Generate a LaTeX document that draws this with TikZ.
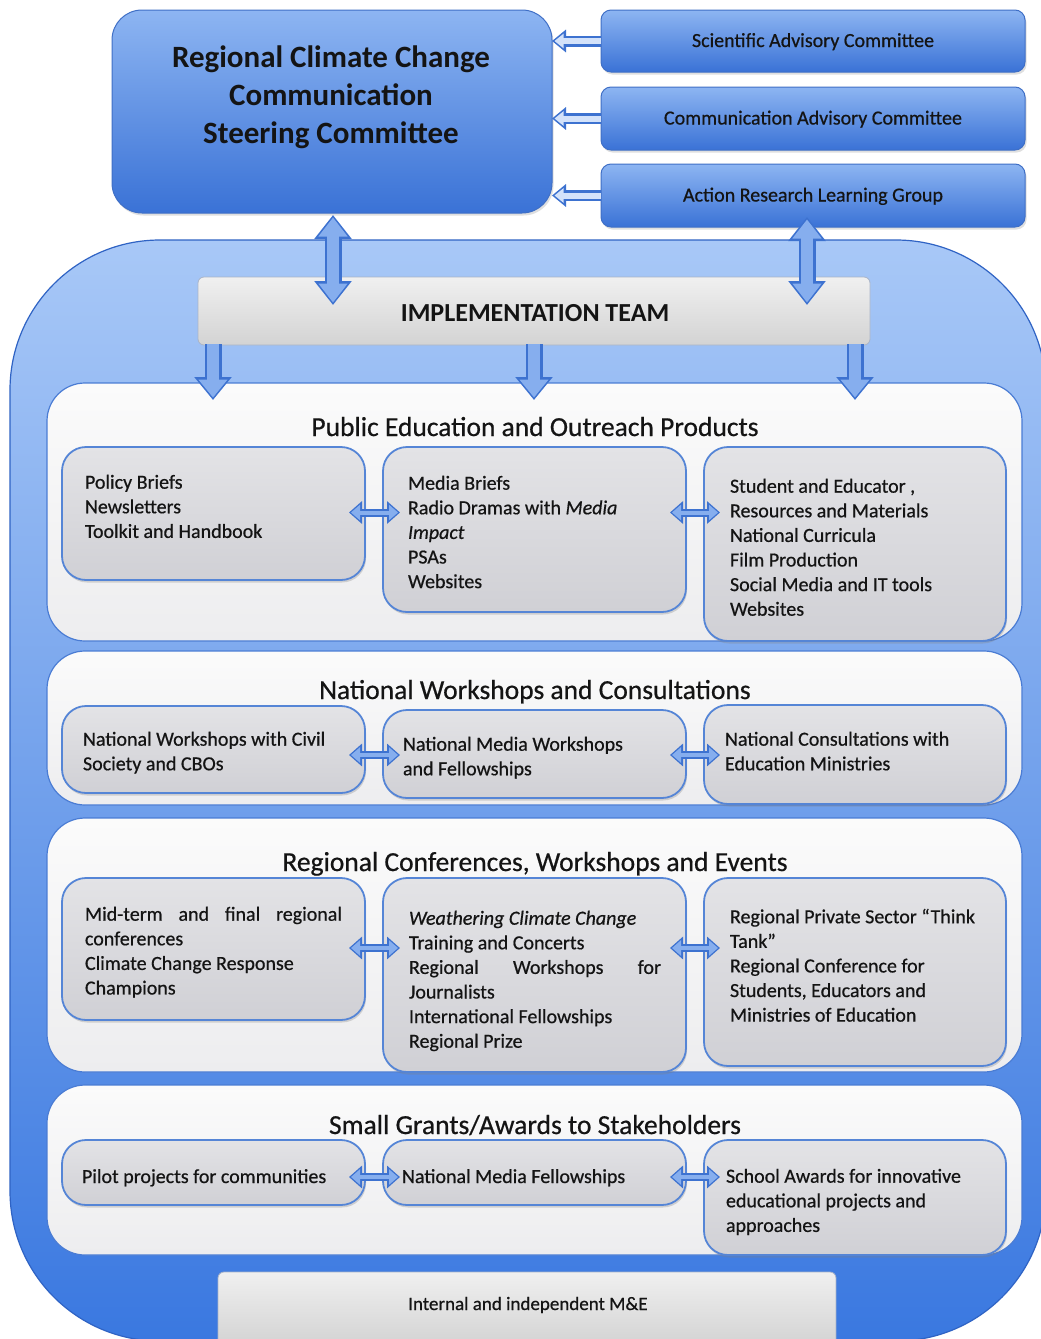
\documentclass[tikz,border=0pt]{standalone}
\usepackage{fontspec}
\setmainfont{Carlito}
\newfontfamily\heavy{Carlito}[FakeBold=0.6]
\usetikzlibrary{arrows.meta,calc,shadows}

\definecolor{txt}{HTML}{141414}
\definecolor{blueTop}{HTML}{8DB5F2}
\definecolor{blueBot}{HTML}{3A72D6}
\definecolor{blueEdge}{HTML}{3F6FC6}
\definecolor{contTop}{HTML}{A8C8F7}
\definecolor{contBot}{HTML}{3A78E0}
\definecolor{contEdge}{HTML}{2F63C4}
\definecolor{panelTop}{HTML}{FBFBFB}
\definecolor{panelBot}{HTML}{EDEDEF}
\definecolor{panelEdge}{HTML}{4A7CD4}
\definecolor{cellTop}{HTML}{E3E3E6}
\definecolor{cellBot}{HTML}{D0D0D5}
\definecolor{cellEdge}{HTML}{5585D6}
\definecolor{barTop}{HTML}{F0F0F0}
\definecolor{barBot}{HTML}{D3D3D3}
\definecolor{barEdge}{HTML}{A9B4C8}
\definecolor{arrOut}{HTML}{3D72D0}
\definecolor{arrIn}{HTML}{86AEEE}
\definecolor{arrLight}{HTML}{D3E2FA}

% a box node given by its corners (x1,y1) and (x2,y2)
\newcommand\boxnode[6]{%
  \node[#1, minimum width={#5-#3}, minimum height={#6-#4}] (#2) at ({(#3+#5)/2},{(#4+#6)/2}) {};}

\tikzset{
  every node/.style={inner sep=0pt, outer sep=0pt},
  bluebox/.style={draw=blueEdge, line width=1pt, top color=blueTop, bottom color=blueBot,
    drop shadow={opacity=0.25, shadow xshift=1.5pt, shadow yshift=-2.5pt}},
  container/.style={draw=contEdge, line width=1.2pt, rounded corners=150pt,
    top color=contTop, bottom color=contBot},
  panel/.style={draw=panelEdge, line width=1.2pt, rounded corners=38pt,
    top color=panelTop, bottom color=panelBot},
  cell/.style={draw=cellEdge, line width=1.8pt, rounded corners=24pt,
    top color=cellTop, bottom color=cellBot,
    drop shadow={opacity=0.3, shadow xshift=1pt, shadow yshift=-2.5pt}},
  bar/.style={draw=barEdge, line width=0.8pt, rounded corners=6pt,
    top color=barTop, bottom color=barBot},
  titletxt/.style={anchor=north, align=center, text=txt,
    font=\fontsize{31}{38}\selectfont\bfseries, execute at begin node=\strut},
  sidetxt/.style={anchor=base, text=txt, font=\heavy\fontsize{20}{24}\selectfont},
  headtxt/.style={anchor=base, text=txt, font=\heavy\fontsize{27.5}{32}\selectfont},
  itemtxt/.style={anchor=north west, align=left, text=txt,
    font=\heavy\fontsize{20}{24.6}\selectfont, execute at begin node=\strut},
  vdarrow/.style={draw=arrOut, line width=17pt,
    {Triangle[width=36pt,length=24pt]}-{Triangle[width=36pt,length=24pt]},
    postaction={draw=arrIn, line width=12pt,
      {Triangle[width=28pt,length=19pt]}-{Triangle[width=28pt,length=19pt]},
      shorten <=2.5pt, shorten >=2.5pt}},
  downarrow/.style={draw=arrOut, line width=17pt, -{Triangle[width=36pt,length=23pt]},
    postaction={draw=arrIn, line width=12pt, -{Triangle[width=28pt,length=18pt]},
      shorten >=2.5pt}},
  leftarrow/.style={draw=arrOut, line width=11pt, -{Triangle[width=22pt,length=14pt]},
    postaction={draw=arrLight, line width=6pt, -{Triangle[width=14pt,length=9pt]},
      shorten >=2.5pt}},
  harrow/.style={draw=arrOut, line width=8pt,
    {Triangle[width=22pt,length=13pt]}-{Triangle[width=22pt,length=13pt]},
    postaction={draw=arrIn, line width=4pt,
      {Triangle[width=15pt,length=9pt]}-{Triangle[width=15pt,length=9pt]},
      shorten <=2pt, shorten >=2pt}},
}

\begin{document}
\begin{tikzpicture}[x=1pt,y=-1pt]
\useasboundingbox (0,0) rectangle (1041,1339);
\clip (0,0) rectangle (1041,1339);
\fill[white] (0,0) rectangle (1041,1339);

% outer frame around the implementation structure
\boxnode{container}{frame}{10}{240}{1046}{1341}

% governance
\boxnode{bluebox, rounded corners=30pt}{steer}{112}{10}{552}{213}
\boxnode{bluebox, rounded corners=10pt}{sci}{601}{10}{1025}{72}
\boxnode{bluebox, rounded corners=10pt}{comm}{601}{87}{1025}{150}
\boxnode{bluebox, rounded corners=10pt}{action}{601}{164}{1025}{227}

\node[titletxt] (steertxt) at (331,45.7) {Regional Climate Change\\Communication\\Steering Committee};
\node[sidetxt] (scitxt) at (813,47) {Scientific Advisory Committee};
\node[sidetxt] (commtxt) at (813,124.5) {Communication Advisory Committee};
\node[sidetxt] (actiontxt) at (813,201.5) {Action Research Learning Group};

\draw[leftarrow] (sci.west) -- (steer.east |- sci.west);
\draw[leftarrow] (comm.west) -- (steer.east |- comm.west);
\draw[leftarrow] (action.west) -- (steer.east |- action.west);

% implementation team
\boxnode{bar}{impl}{198}{277}{870}{345}
\node[anchor=base, text=txt, font=\fontsize{26}{30}\selectfont\bfseries] (impltxt) at (535,321) {IMPLEMENTATION TEAM};

% four activity panels
\boxnode{panel}{p1}{47}{383}{1022}{641}
\boxnode{panel}{p2}{47}{651}{1022}{805}
\boxnode{panel}{p3}{47}{818}{1022}{1072}
\boxnode{panel}{p4}{47}{1085}{1022}{1255}

\draw[vdarrow] ($(steer.south)+(1,2)$) -- ($(steer.south |- impl.north)+(1,28)$);
\draw[vdarrow] ($(action.south)+(-6,-10)$) -- ($(action.south |- impl.north)+(-6,28)$);
\draw[downarrow] ($(impl.south west)+(15,-1)$) -- ($(impl.south west |- p1.north)+(15,17)$);
\draw[downarrow] ($(impl.south)+(0,-1)$) -- ($(impl.south |- p1.north)+(0,17)$);
\draw[downarrow] ($(impl.south east)+(-15,-1)$) -- ($(impl.south east |- p1.north)+(-15,17)$);

\node[headtxt] (h1) at (535,436) {Public Education and Outreach Products};
\node[headtxt] (h2) at (535,699) {National Workshops and Consultations};
\node[headtxt] (h3) at (535,871) {Regional Conferences, Workshops and Events};
\node[headtxt] (h4) at (535,1134) {Small Grants/Awards to Stakeholders};

% panel 1 cells
\boxnode{cell}{c11}{62}{447}{365}{580}
\boxnode{cell}{c12}{383}{447}{686}{612}
\boxnode{cell}{c13}{704}{447}{1006}{641}
% panel 2 cells
\boxnode{cell}{c21}{62}{706}{365}{793}
\boxnode{cell}{c22}{383}{710}{686}{798}
\boxnode{cell}{c23}{704}{705}{1006}{804}
% panel 3 cells
\boxnode{cell}{c31}{62}{878}{365}{1020}
\boxnode{cell}{c32}{383}{878}{686}{1072}
\boxnode{cell}{c33}{704}{878}{1006}{1066}
% panel 4 cells
\boxnode{cell}{c41}{62}{1140}{365}{1205}
\boxnode{cell}{c42}{383}{1140}{686}{1205}
\boxnode{cell}{c43}{704}{1140}{1006}{1255}

% monitoring and evaluation
\boxnode{bar}{me}{218}{1272}{836}{1345}
\node[anchor=base, text=txt, font=\heavy\fontsize{19}{23}\selectfont] (metxt) at (528,1310) {Internal and independent M\&E};

% links between neighbouring cells
\draw[harrow] ($(c11.east)+(-16,-1)$) -- ($(c12.west |- c11.east)+(17,-1)$);
\draw[harrow] ($(c12.east |- c11.east)+(-16,-1)$) -- ($(c13.west |- c11.east)+(16,-1)$);
\draw[harrow] ($(c21.east)+(-16,5.5)$) -- ($(c22.west |- c21.east)+(17,5.5)$);
\draw[harrow] ($(c22.east |- c21.east)+(-16,5.5)$) -- ($(c23.west |- c21.east)+(16,5.5)$);
\draw[harrow] ($(c31.east)+(-16,-1)$) -- ($(c32.west |- c31.east)+(17,-1)$);
\draw[harrow] ($(c32.east |- c31.east)+(-16,-1)$) -- ($(c33.west |- c31.east)+(16,-1)$);
\draw[harrow] ($(c41.east)+(-16,4.5)$) -- ($(c42.west |- c41.east)+(17,4.5)$);
\draw[harrow] ($(c42.east |- c41.east)+(-16,4.5)$) -- ($(c43.west |- c41.east)+(16,4.5)$);

% cell texts
\node[itemtxt] (t11) at (85,474.8) {Policy Briefs\\Newsletters\\Toolkit and Handbook};
\node[itemtxt] (t12) at (408,475.8) {Media Briefs\\Radio Dramas with \emph{Media}\\\emph{Impact}\\PSAs\\Websites};
\node[itemtxt] (t13) at (730,478.8) {Student and Educator ,\\Resources and Materials\\National Curricula\\Film Production\\Social Media and IT tools\\Websites};

\node[itemtxt] (t21) at (83,731.8) {National Workshops with Civil\\Society and CBOs};
\node[itemtxt] (t22) at (403,736.8) {National Media Workshops\\and Fellowships};
\node[itemtxt] (t23) at (725,731.8) {National Consultations with\\Education Ministries};

\node[itemtxt] (t31) at (85,906.8) {\hbox to 257pt{Mid-term\hfill and\hfill final\hfill regional}\\conferences\\Climate Change Response\\Champions};
\node[itemtxt] (t32) at (409,910.8) {\emph{Weathering Climate Change}\\Training and Concerts\\\hbox to 252pt{Regional\hfill Workshops\hfill for}\\Journalists\\International Fellowships\\Regional Prize};
\node[itemtxt] (t33) at (730,908.8) {Regional Private Sector “Think\\Tank”\\Regional Conference for\\Students, Educators and\\Ministries of Education};

\node[itemtxt] (t41) at (82,1165.8) {Pilot projects for communities};
\node[itemtxt] (t42) at (402,1165.8) {National Media Fellowships};
\node[itemtxt] (t43) at (726,1168.8) {School Awards for innovative\\educational projects and\\approaches};
\end{tikzpicture}
\end{document}
